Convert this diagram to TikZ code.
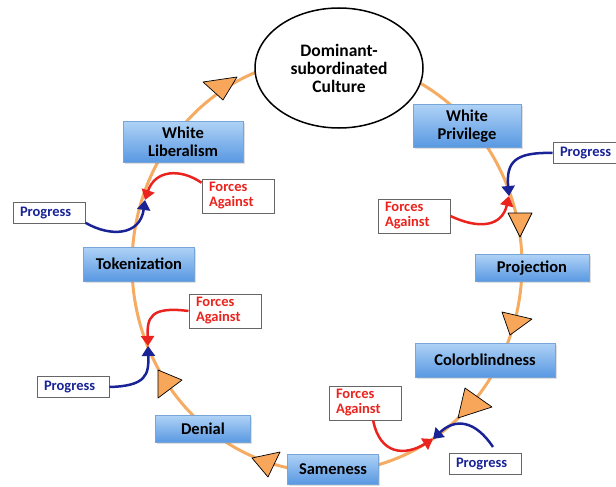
\documentclass[tikz,border=0pt]{standalone}
\usepackage{fontspec}
\setmainfont{Carlito}
\usetikzlibrary{shapes.geometric,arrows.meta,shadows}

\definecolor{looporange}{RGB}{245,172,98}
\definecolor{trifill}{RGB}{247,166,90}
\definecolor{boxtop}{RGB}{175,210,246}
\definecolor{boxbottom}{RGB}{88,152,226}
\definecolor{boxline}{RGB}{120,165,215}
\definecolor{againstred}{RGB}{235,35,30}
\definecolor{progressblue}{RGB}{25,35,150}

\begin{document}
\begin{tikzpicture}[
    x=1pt, y=-1pt,
    stage/.style={rectangle, draw=boxline, top color=boxtop, bottom color=boxbottom, align=center, inner sep=1pt,
        font=\fontsize{16.5}{18}\selectfont\bfseries, drop shadow={opacity=0.25, shadow xshift=1.5pt, shadow yshift=-1.5pt}},
    tag/.style={rectangle, draw=black!60, line width=1pt, fill=white, align=left, inner sep=0pt, font=\fontsize{14.5}{15}\selectfont\bfseries},
    against/.style={tag, text=againstred, minimum width=72, minimum height=34, text width=58},
    progress/.style={tag, text=progressblue, minimum width=72, minimum height=21, text width=58},
    culture/.style={ellipse, draw, line width=1.5pt, fill=white, minimum width=168, minimum height=120, align=center, inner sep=0pt,
        font=\fontsize{17.5}{18}\selectfont\bfseries},
    loopline/.style={draw=looporange, line width=3pt},
    tri/.style={fill=trifill, draw=black, line width=0.7pt, line join=round},
    push/.style={-{Triangle[length=10pt,width=13pt]}, line width=2.5pt, draw=progressblue},
    resist/.style={-{Triangle[length=10pt,width=13pt]}, line width=2.5pt, draw=againstred}
]
\useasboundingbox (0,0) rectangle (616,487);

% The cycle
\draw[loopline] (327,265) ellipse [x radius=195, y radius=207];

% Direction markers
\filldraw[tri] (203,82) -- (237,77) -- (223,100) -- cycle;
\filldraw[tri] (508,213) -- (532,213) -- (520,237) -- cycle;
\filldraw[tri] (502,312) -- (532,319) -- (510,335) -- cycle;
\filldraw[tri] (465,388) -- (492,407) -- (458,418) -- cycle;
\filldraw[tri] (158,370) -- (182,380) -- (158,398) -- cycle;
\filldraw[tri] (252,458) -- (280,452) -- (268,477) -- cycle;

% Centre
\node[culture] (culture) at (339,68) {Dominant-\\subordinated\\Culture};

% Stages
\node[stage, minimum width=108, minimum height=43] (wpriv) at (467,126) {White\\Privilege};
\node[stage, minimum width=114, minimum height=27] (proj) at (532,268) {Projection};
\node[stage, minimum width=140, minimum height=34] (color) at (485,360) {Colorblindness};
\node[stage, minimum width=91, minimum height=30] (same) at (333,469) {Sameness};
\node[stage, minimum width=95, minimum height=27] (denial) at (203,429) {Denial};
\node[stage, minimum width=111, minimum height=34] (token) at (139,264) {Tokenization};
\node[stage, minimum width=120, minimum height=41] (wlib) at (183,142) {White\\Liberalism};

% Forces and progress
\node[against] (fa1) at (238,196) {Forces\\Against};
\node[progress] (pr1) at (49,213) {Progress};
\node[against] (fa2) at (414,216) {Forces\\Against};
\node[progress] (pr2) at (589,153) {Progress};
\node[against] (fa3) at (225,311) {Forces\\Against};
\node[progress] (pr3) at (73,387) {Progress};
\node[against] (fa4) at (365,403) {Forces\\Against};
\node[progress] (pr4) at (485,464) {Progress};

% Meeting points
\coordinate (j1) at (145,200);
\coordinate (j2) at (509,196);
\coordinate (j3) at (148,346);
\coordinate (j4) at (433,439);
\coordinate (p4s) at (493,447);

% Arrows
\draw[resist] (fa1.160) .. controls (180,168) and (155,170) .. (j1);
\draw[push] (pr1.-15) .. controls (110,237) and (140,236) .. (j1);
\draw[push] (pr2.west) .. controls (515,152) and (506,162) .. (j2);
\draw[resist] (fa2.east) .. controls (480,230) and (502,226) .. (j2);
\draw[resist] (fa3.west) .. controls (150,306) and (147,318) .. (j3);
\draw[push] (pr3.east) .. controls (146,386) and (149,375) .. (j3);
\draw[resist] (fa4.-65) .. controls (380,455) and (405,456) .. (j4);
\draw[push] (p4s) .. controls (475,420) and (455,418) .. (j4);

\end{tikzpicture}
\end{document}
